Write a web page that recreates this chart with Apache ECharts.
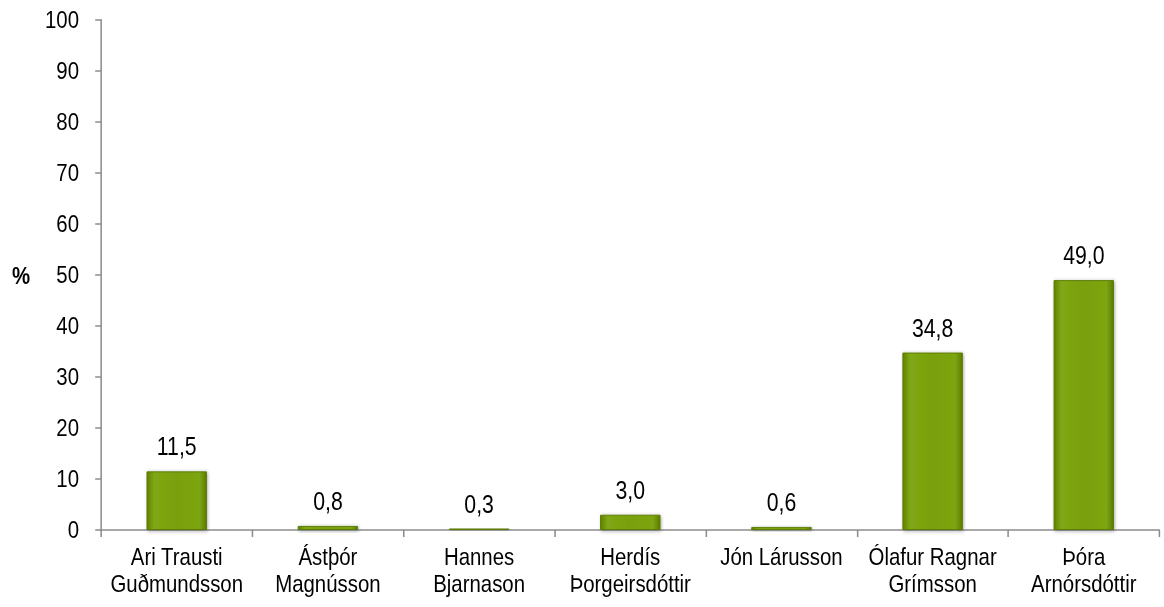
<!DOCTYPE html>
<html>
<head>
<meta charset="utf-8">
<script src="https://cdn.jsdelivr.net/npm/echarts@6/dist/echarts.min.js"></script>
<style>
html,body{margin:0;padding:0;background:#fff;overflow:hidden;width:1164px;height:607px}
#c{width:1369px;height:607px;transform:scaleX(0.85);transform-origin:0 0}
</style>
</head>
<body>
<div id="c"></div>
<script>
var categories = ['Ari Trausti\nGuðmundsson', 'Ástþór\nMagnússon', 'Hannes\nBjarnason', 'Herdís\nÞorgeirsdóttir', 'Jón Lárusson', 'Ólafur Ragnar\nGrímsson', 'Þóra\nArnórsdóttir'];
var values = [11.5, 0.8, 0.3, 3.0, 0.6, 34.8, 49.0];
var yTicks = [0, 10, 20, 30, 40, 50, 60, 70, 80, 90, 100];

// The page is drawn 1/0.85 wider and squeezed horizontally to mimic the narrow font.
var FONT = '"Liberation Sans", Arial, sans-serif';
var chart = echarts.init(document.getElementById('c'), null, {renderer: 'svg'});
var barColor = {
  type: 'linear', x: 0, y: 0, x2: 1, y2: 0,
  colorStops: [
    {offset: 0, color: '#5f8200'},
    {offset: 0.12, color: '#80a714'},
    {offset: 0.5, color: '#79a00a'},
    {offset: 0.88, color: '#7ea512'},
    {offset: 1, color: '#5a7c00'}
  ]
};
chart.setOption({
  animation: false,
  grid: {left: 119, right: 5, top: 20, bottom: 77},
  graphic: [{type: 'text', left: 14, top: 264, style: {text: '%', fontFamily: FONT, fontWeight: 'bold', fontSize: 24, fill: '#000'}}],
  xAxis: {
    type: 'category', data: categories,
    axisLine: {lineStyle: {color: '#8c8c8c', width: 1.5}},
    axisTick: {show: true, length: 7, lineStyle: {color: '#8c8c8c', width: 1.8}},
    axisLabel: {color: '#000', fontFamily: FONT, fontSize: 24, lineHeight: 27, margin: 13, interval: 0}
  },
  yAxis: {
    type: 'value', min: 0, max: 100, interval: 10,
    axisLine: {show: true, lineStyle: {color: '#8c8c8c', width: 1.8}},
    axisTick: {show: true, length: 7, lineStyle: {color: '#8c8c8c', width: 1.5}},
    splitLine: {show: false},
    axisLabel: {color: '#000', fontFamily: FONT, fontSize: 24, margin: 26,
      formatter: function (v) { return yTicks.indexOf(v) >= 0 ? String(v) : ''; }}
  },
  series: [{
    type: 'bar', data: values, barWidth: 71,
    itemStyle: {color: barColor, borderColor: '#5a7a00', borderWidth: 1, shadowColor: 'rgba(0,0,0,0.35)', shadowBlur: 4, shadowOffsetX: 1, shadowOffsetY: 1},
    label: {show: true, position: 'top', distance: 12, color: '#000', fontFamily: FONT, fontSize: 25,
      formatter: function (p) { return p.value.toFixed(1).replace('.', ','); }}
  }]
});
</script>
</body>
</html>
